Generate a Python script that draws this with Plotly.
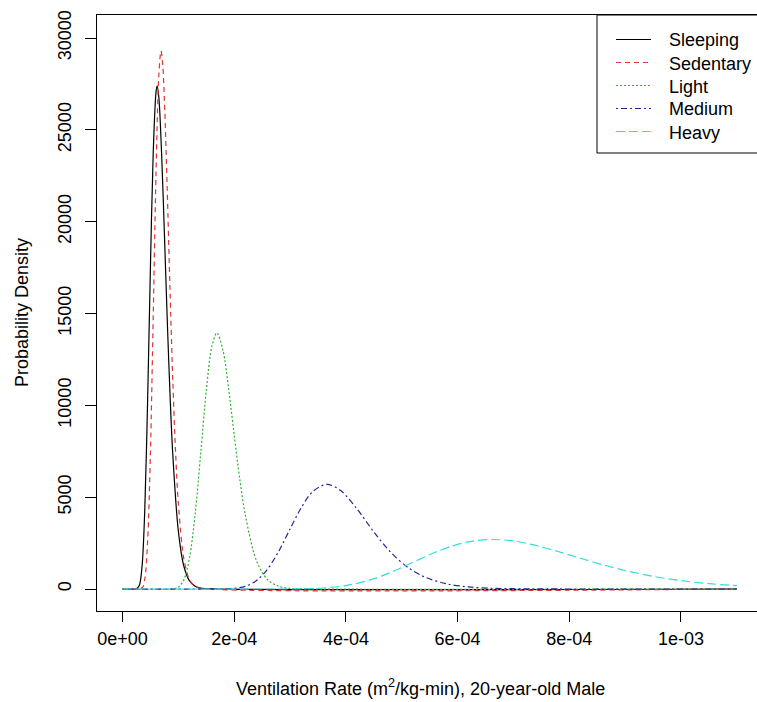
import plotly.graph_objects as go

# ---------------- data ----------------
series_names = ["Sleeping", "Sedentary", "Light", "Medium", "Heavy"]

sleeping_x = [0, 2.5e-5, 3.0e-5, 3.5e-5, 4.0e-5, 4.5e-5, 5.0e-5, 5.5e-5, 6.0e-5, 6.2e-5,
              6.5e-5, 7.0e-5, 7.5e-5, 8.0e-5, 8.5e-5, 9.0e-5, 1.0e-4, 1.1e-4, 1.2e-4,
              1.3e-4, 1.4e-4, 1.6e-4, 1.1e-3]
sleeping_y = [0, 11, 186, 1234, 4415, 10285, 17551, 23754, 27050, 27400,
              26800, 23720, 19367, 14772, 10661, 7355, 3154, 1224, 444,
              154, 52, 5, 0]

sedentary_x = [0, 3.5e-5, 4.0e-5, 4.5e-5, 5.0e-5, 5.5e-5, 6.0e-5, 6.5e-5, 6.9e-5, 7.2e-5,
               7.5e-5, 8.0e-5, 8.5e-5, 9.0e-5, 9.5e-5, 1.0e-4, 1.1e-4, 1.2e-4, 1.3e-4,
               1.4e-4, 1.1e-3]
sedentary_y = [0, 65, 570, 2604, 7416, 14843, 22638, 27942, 29300, 28560,
               26646, 21829, 16360, 11404, 7481, 4670, 1615, 496, 140,
               37, 0]

light_x = [0, 0.9e-4, 1.0e-4, 1.1e-4, 1.2e-4, 1.3e-4, 1.4e-4, 1.5e-4, 1.6e-4, 1.69e-4,
           1.8e-4, 1.9e-4, 2.0e-4, 2.1e-4, 2.2e-4, 2.4e-4, 2.6e-4, 2.8e-4, 3.0e-4,
           3.3e-4, 1.1e-3]
light_y = [0, 11, 100, 510, 1701, 4052, 7375, 10795, 13208, 13937,
           12981, 10906, 8389, 5988, 4011, 1539, 501, 145, 38,
           5, 0]

medium_x = [0, 1.8e-4, 2.0e-4, 2.2e-4, 2.4e-4, 2.6e-4, 2.8e-4, 3.0e-4, 3.2e-4, 3.4e-4,
            3.66e-4, 3.9e-4, 4.2e-4, 4.5e-4, 4.8e-4, 5.1e-4, 5.4e-4, 5.8e-4, 6.2e-4,
            6.6e-4, 7.0e-4, 7.6e-4, 1.1e-3]
medium_y = [0, 5, 33, 147, 461, 1094, 2071, 3267, 4423, 5282,
            5699, 5379, 4352, 3108, 2007, 1196, 668, 283, 111,
            41, 15, 3, 0]

heavy_x = [0, 2.8e-4, 3.2e-4, 3.6e-4, 4.0e-4, 4.4e-4, 4.8e-4, 5.2e-4, 5.6e-4, 6.0e-4,
           6.3e-4, 6.63e-4, 7.0e-4, 7.4e-4, 7.8e-4, 8.2e-4, 8.6e-4, 9.0e-4, 9.5e-4,
           1.0e-3, 1.05e-3, 1.1e-3]
heavy_y = [0, 1, 10, 54, 185, 462, 902, 1452, 2001, 2430,
           2625, 2696, 2613, 2373, 2040, 1674, 1320, 1007, 690,
           455, 291, 181]

x_tick_vals = [0, 2e-4, 4e-4, 6e-4, 8e-4, 1e-3]
x_tick_text = ["0e+00", "2e-04", "4e-04", "6e-04", "8e-04", "1e-03"]
y_tick_vals = [0, 5000, 10000, 15000, 20000, 25000, 30000]
y_tick_text = ["0", "5000", "10000", "15000", "20000", "25000", "30000"]

x_title = "Ventilation Rate (m<sup>2</sup>/kg-min), 20-year-old Male"
y_title = "Probability Density"

# ---------------- styles ----------------
colors = ["#000000", "#DC3535", "#30B030", "#26269A", "#30DEDE"]
dashes = ["solid", "5px,4px", "2px,2px", "2px,3px,6px,3px", "9px,4px"]
FONT = "Liberation Sans, Arial, sans-serif"
FS = 18

all_x = [sleeping_x, sedentary_x, light_x, medium_x, heavy_x]
all_y = [sleeping_y, sedentary_y, light_y, medium_y, heavy_y]

fig = go.Figure()
for name, xs, ys, c, d in zip(series_names, all_x, all_y, colors, dashes):
    fig.add_trace(go.Scatter(
        x=xs, y=ys, name=name, mode="lines",
        line=dict(color=c, width=1.2, dash=d, shape="spline", smoothing=0.9),
        showlegend=False, hoverinfo="skip"))

W, H = 757, 702
ML, MR, MT, MB = 97, 0, 15, 91
pw, ph = W - ML - MR, H - MT - MB

def px(xpix):
    return (xpix - ML) / pw

def py(ypix):
    return (H - MB - ypix) / ph

shapes = []
annotations = []

# manual legend (R-style box)
shapes.append(dict(type="rect", xref="paper", yref="paper",
                   x0=px(597), x1=px(775), y0=py(153), y1=py(MT),
                   line=dict(color="black", width=1), fillcolor="white", layer="above"))
row_y = [39.5, 62.5, 85.5, 108.5, 131.5]
for name, c, d, ry in zip(series_names, colors, dashes, row_y):
    shapes.append(dict(type="line", xref="paper", yref="paper",
                       x0=px(616), x1=px(651), y0=py(ry), y1=py(ry),
                       line=dict(color=c, width=1.2, dash=d), layer="above"))
    annotations.append(dict(text=name, xref="paper", yref="paper",
                            x=px(667), y=py(ry + 1), xanchor="left", yanchor="middle",
                            showarrow=False, font=dict(family=FONT, size=FS, color="black")))

# axis titles
annotations.append(dict(text=x_title, xref="paper", yref="paper",
                        x=px(420), y=py(687), xanchor="center", yanchor="middle",
                        showarrow=False, font=dict(family=FONT, size=FS, color="black")))
annotations.append(dict(text=y_title, xref="paper", yref="paper",
                        x=px(22), y=py(313), xanchor="center", yanchor="middle",
                        textangle=-90, showarrow=False,
                        font=dict(family=FONT, size=FS, color="black")))

fig.update_layout(
    width=W, height=H,
    margin=dict(l=ML, r=MR, t=MT, b=MB, pad=0),
    paper_bgcolor="white", plot_bgcolor="white",
    showlegend=False,
    font=dict(family=FONT, size=FS, color="black"),
    shapes=shapes, annotations=annotations,
    xaxis=dict(range=[-4.566e-5, 1.1361e-3], showgrid=False, zeroline=False,
               showline=True, mirror=True, linecolor="black", linewidth=1,
               ticks="outside", ticklen=10, tickwidth=1, tickcolor="black",
               tickvals=x_tick_vals, ticktext=x_tick_text,
               tickfont=dict(family=FONT, size=FS, color="black"),
               ticklabelstandoff=1),
    yaxis=dict(range=[-1198, 31252], showgrid=False, zeroline=False,
               showline=True, mirror=False, linecolor="black", linewidth=1,
               ticks="outside", ticklen=11, tickwidth=1, tickcolor="black",
               tickvals=y_tick_vals, ticktext=y_tick_text, tickangle=-90,
               tickfont=dict(family=FONT, size=FS, color="black"),
               ticklabelstandoff=7),
)

fig.write_html("out.html")
